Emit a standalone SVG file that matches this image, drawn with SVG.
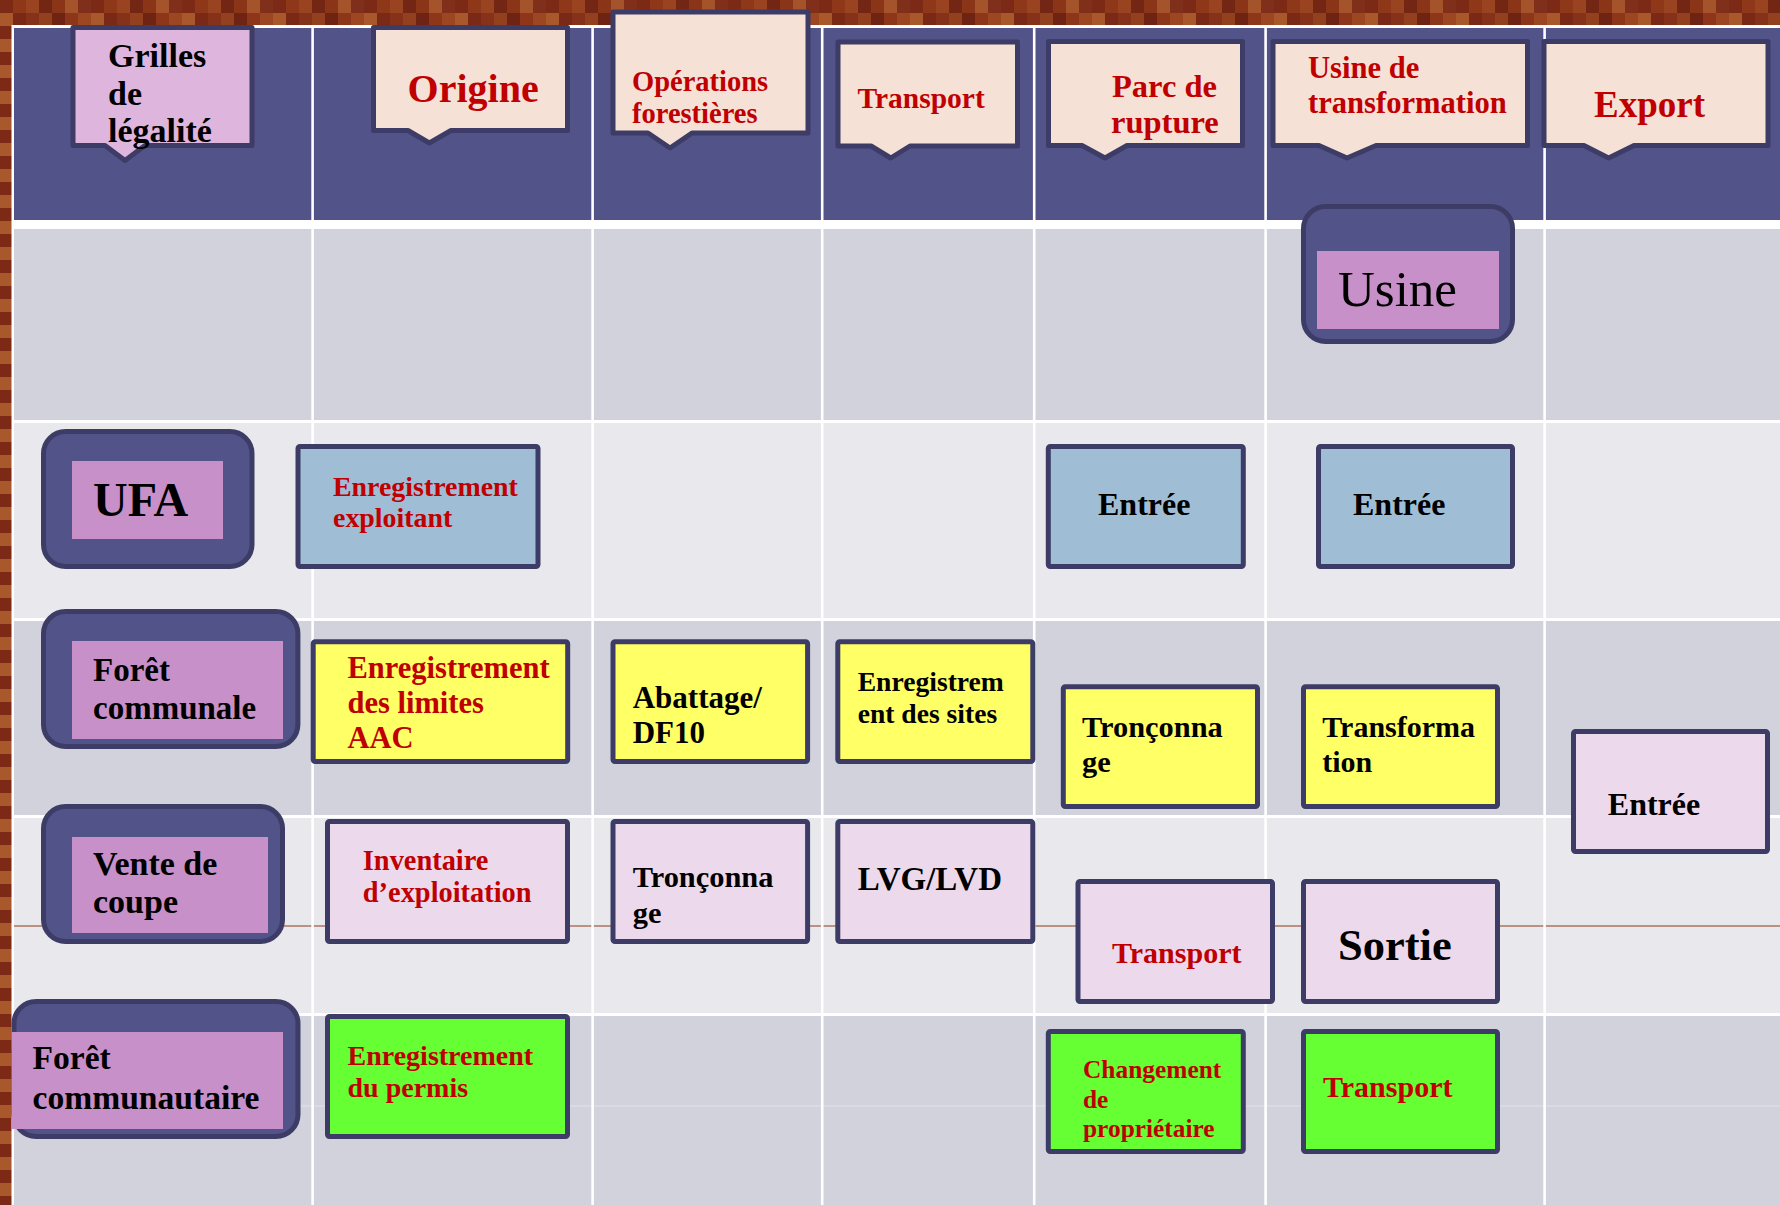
<svg xmlns="http://www.w3.org/2000/svg" width="1780" height="1205" viewBox="0 0 1780 1205">
<defs>
<pattern id="tex" width="91" height="26" patternUnits="userSpaceOnUse">
<rect width="91" height="26" fill="#883217"/>
<rect x="0" y="0" width="13" height="13" fill="#7C2A15"/>
<rect x="13" y="0" width="13" height="13" fill="#8F3819"/>
<rect x="26" y="0" width="13" height="13" fill="#9A4320"/>
<rect x="39" y="0" width="13" height="13" fill="#742614"/>
<rect x="52" y="0" width="13" height="13" fill="#8A3418"/>
<rect x="65" y="0" width="13" height="13" fill="#A5532A"/>
<rect x="78" y="0" width="13" height="13" fill="#80301A"/>
<rect x="0" y="13" width="13" height="13" fill="#A9582B"/>
<rect x="13" y="13" width="13" height="13" fill="#7A2916"/>
<rect x="26" y="13" width="13" height="13" fill="#86321A"/>
<rect x="39" y="13" width="13" height="13" fill="#93401E"/>
<rect x="52" y="13" width="13" height="13" fill="#6F2413"/>
<rect x="65" y="13" width="13" height="13" fill="#8D3619"/>
<rect x="78" y="13" width="13" height="13" fill="#9C4722"/>
</pattern>
<style>
.t{font-family:"Liberation Serif","DejaVu Serif",serif;font-weight:bold}
.r{fill:#C00000}
.k{fill:#000}
.call{fill:#F6E1D6;stroke:#3D3C66;stroke-width:5;stroke-linejoin:round}
.role{fill:#525389;stroke:#3D3C66;stroke-width:5}
.pink{fill:#C890C8}
.box{stroke:#3D3C66;stroke-width:5;stroke-linejoin:round}
.blue{fill:#9FBDD4}
.yel{fill:#FFFF66}
.lp{fill:#EDD9EC}
.grn{fill:#66FF33}
.hdr{fill:#525389}
.rg{fill:#D1D2DC}
.rl{fill:#E8E8ED}
.wl{stroke:#FFFFFF;stroke-width:2.6}
</style>
</defs>

<g id="background">
<rect width="1780" height="1205" fill="url(#tex)"/>
<rect x="11.5" y="25" width="1768.5" height="1180" fill="#FFFFFF"/>
<rect class="hdr" x="14" y="28" width="1766" height="192"/>
<rect class="rg" x="14" y="229" width="1766" height="191"/>
<rect class="rl" x="14" y="423" width="1766" height="195"/>
<rect class="rg" x="14" y="621" width="1766" height="194"/>
<rect class="rl" x="14" y="818" width="1766" height="195"/>
<rect class="rg" x="14" y="1016" width="1766" height="189"/>
<line x1="14" y1="926" x2="1780" y2="926" stroke="#8B3A1A" stroke-width="1.2"/>
<line x1="14" y1="1106" x2="1780" y2="1106" stroke="#E2E2E8" stroke-width="1.2"/>
<line class="wl" x1="312.6" y1="28" x2="312.6" y2="1205"/>
<line class="wl" x1="592.6" y1="28" x2="592.6" y2="1205"/>
<line class="wl" x1="822.2" y1="28" x2="822.2" y2="1205"/>
<line class="wl" x1="1034.2" y1="28" x2="1034.2" y2="1205"/>
<line class="wl" x1="1265.6" y1="28" x2="1265.6" y2="1205"/>
<line class="wl" x1="1544.6" y1="28" x2="1544.6" y2="1205"/>
</g>

<g id="connectors"></g>

<g id="h-grilles">
<path d="M73,27.5 H252 V145.5 H145 L125,160.5 L105,145.5 H73 Z" fill="#DDB5DD" stroke="#3D3C66" stroke-width="5" stroke-linejoin="round"/>
<text class="t k" font-size="34"><tspan x="108" y="67">Grilles</tspan><tspan x="108" y="105">de</tspan><tspan x="108" y="142">légalité</tspan></text>
</g>
<g id="h-origine">
<path class="call" d="M373.5,27.5 H567.5 V130.5 H451 L429.4,143 L408,130.5 H373.5 Z"/>
<text class="t r" font-size="40" x="407.6" y="101.7">Origine</text>
</g>
<g id="h-operations">
<path class="call" d="M613,12 H808 V133 H692 L670,148 L648,133 H613 Z"/>
<text class="t r" font-size="28.5"><tspan x="632" y="90.7">Opérations</tspan><tspan x="632" y="122.7">forestières</tspan></text>
</g>
<g id="h-transport">
<path class="call" d="M838,42 H1017.5 V146 H910 L890.7,158 L871,146 H838 Z"/>
<text class="t r" font-size="29.5" x="857.5" y="108.3">Transport</text>
</g>
<g id="h-parc">
<path class="call" d="M1048.5,41.5 H1242.5 V145.5 H1127 L1105,158 L1082,145.5 H1048.5 Z"/>
<text class="t r" font-size="32.5"><tspan x="1112" y="96.7">Parc de</tspan><tspan x="1111" y="133.3">rupture</tspan></text>
</g>
<g id="h-usine">
<path class="call" d="M1273,41.5 H1527.5 V145.5 H1376 L1347,158 L1319,145.5 H1273 Z"/>
<text class="t r" font-size="30.6"><tspan x="1308" y="78.3">Usine de</tspan><tspan x="1308" y="113.3">transformation</tspan></text>
</g>
<g id="h-export">
<path class="call" d="M1544,41.5 H1768 V145.5 H1634 L1608.6,158 L1584,145.5 H1544 Z"/>
<text class="t r" font-size="37" x="1594" y="116.7">Export</text>
</g>

<g id="n-usine">
<rect class="role" x="1303.5" y="206.5" width="209" height="135" rx="22"/>
<rect class="pink" x="1317" y="251" width="182" height="78"/>
<text x="1338" y="306" font-family="Liberation Serif, DejaVu Serif, serif" font-size="51" fill="#000">Usine</text>
</g>

<g id="n-ufa">
<rect class="role" x="43.5" y="431.5" width="208.5" height="135" rx="22"/>
<rect class="pink" x="72" y="461" width="151" height="78"/>
<text class="t k" font-size="48" x="93" y="515.7">UFA</text>
</g>
<g id="n-enr-exploitant">
<rect class="box blue" x="298" y="446.5" width="240" height="120" rx="2"/>
<text class="t r" font-size="27.9"><tspan x="333" y="496">Enregistrement</tspan><tspan x="333" y="527.3">exploitant</tspan></text>
</g>
<g id="n-entree-parc">
<rect class="box blue" x="1048.3" y="446.5" width="195" height="120" rx="2"/>
<text class="t k" font-size="32" x="1098" y="515">Entrée</text>
</g>
<g id="n-entree-usine">
<rect class="box blue" x="1318.5" y="446.5" width="194" height="120" rx="2"/>
<text class="t k" font-size="32" x="1353" y="515">Entrée</text>
</g>

<g id="n-foret-communale">
<rect class="role" x="43.5" y="611.5" width="254.4" height="135" rx="22"/>
<rect class="pink" x="72" y="641" width="211" height="98"/>
<text class="t k" font-size="33"><tspan x="93" y="680.7">Forêt</tspan><tspan x="93" y="719.3">communale</tspan></text>
</g>
<g id="n-enr-limites">
<rect class="box yel" x="313.2" y="641.8" width="254.5" height="119.7" rx="2"/>
<text class="t r" font-size="30.5"><tspan x="347.5" y="678.3">Enregistrement</tspan><tspan x="347.5" y="713.3">des limites</tspan><tspan x="347.5" y="747.7">AAC</tspan></text>
</g>
<g id="n-abattage">
<rect class="box yel" x="613" y="641.8" width="194.6" height="119.7" rx="2"/>
<text class="t k" font-size="31"><tspan x="632.7" y="708.3">Abattage/</tspan><tspan x="632.7" y="743.3">DF10</tspan></text>
</g>
<g id="n-enr-sites">
<rect class="box yel" x="837.8" y="641.8" width="195" height="119.7" rx="2"/>
<text class="t k" font-size="27.6"><tspan x="857.7" y="690.7">Enregistrem</tspan><tspan x="857.7" y="722.7">ent des sites</tspan></text>
</g>
<g id="n-tronconnage-parc">
<rect class="box yel" x="1063.3" y="686.8" width="194.2" height="119.7" rx="2"/>
<text class="t k" font-size="30.4"><tspan x="1082" y="737.3">Tronçonna</tspan><tspan x="1082" y="772.3">ge</tspan></text>
</g>
<g id="n-transformation">
<rect class="box yel" x="1303.5" y="686.8" width="194" height="119.7" rx="2"/>
<text class="t k" font-size="30"><tspan x="1322.3" y="737.3">Transforma</tspan><tspan x="1322.3" y="772.3">tion</tspan></text>
</g>
<g id="n-entree-export">
<rect class="box lp" x="1573.5" y="731.5" width="194" height="120" rx="2"/>
<text class="t k" font-size="32" x="1607.8" y="815">Entrée</text>
</g>

<g id="n-vente-coupe">
<rect class="role" x="43.5" y="806.5" width="239" height="135" rx="22"/>
<rect class="pink" x="72" y="837" width="196" height="96"/>
<text class="t k" font-size="34"><tspan x="93" y="875">Vente de</tspan><tspan x="93" y="913.3">coupe</tspan></text>
</g>
<g id="n-inventaire">
<rect class="box lp" x="327.5" y="821.5" width="240" height="120" rx="2"/>
<text class="t r" font-size="28.4"><tspan x="362.8" y="870">Inventaire</tspan><tspan x="362.8" y="901.7">d’exploitation</tspan></text>
</g>
<g id="n-tronconnage-ops">
<rect class="box lp" x="613" y="821.5" width="194.6" height="120" rx="2"/>
<text class="t k" font-size="30.4"><tspan x="632.7" y="887.3">Tronçonna</tspan><tspan x="632.7" y="923.3">ge</tspan></text>
</g>
<g id="n-lvg">
<rect class="box lp" x="837.8" y="821.5" width="195" height="120" rx="2"/>
<text class="t k" font-size="33" x="857.7" y="890">LVG/LVD</text>
</g>
<g id="n-transport-parc">
<rect class="box lp" x="1078" y="881.5" width="194.5" height="120" rx="2"/>
<text class="t r" font-size="30" x="1112" y="962.7">Transport</text>
</g>
<g id="n-sortie">
<rect class="box lp" x="1303.5" y="881.5" width="194" height="120" rx="2"/>
<text class="t k" font-size="44.5" x="1338" y="960">Sortie</text>
</g>

<g id="n-foret-communautaire">
<rect class="role" x="14" y="1001.5" width="284" height="135" rx="22"/>
<rect class="pink" x="12" y="1032" width="271" height="97"/>
<text class="t k" font-size="33.6"><tspan x="32.5" y="1069">Forêt</tspan><tspan x="32.5" y="1109.3">communautaire</tspan></text>
</g>
<g id="n-enr-permis">
<rect class="box grn" x="327.5" y="1016.5" width="240" height="120" rx="2"/>
<text class="t r" font-size="28"><tspan x="347.5" y="1065">Enregistrement</tspan><tspan x="347.5" y="1096.7">du permis</tspan></text>
</g>
<g id="n-changement">
<rect class="box grn" x="1048.3" y="1031.5" width="195" height="120" rx="2"/>
<text class="t r" font-size="25.4"><tspan x="1083" y="1078.3">Changement</tspan><tspan x="1083" y="1107.7">de</tspan><tspan x="1083" y="1136.7">propriétaire</tspan></text>
</g>
<g id="n-transport-usine">
<rect class="box grn" x="1303.5" y="1031.5" width="194" height="120" rx="2"/>
<text class="t r" font-size="30" x="1323" y="1097.3">Transport</text>
</g>
</svg>
